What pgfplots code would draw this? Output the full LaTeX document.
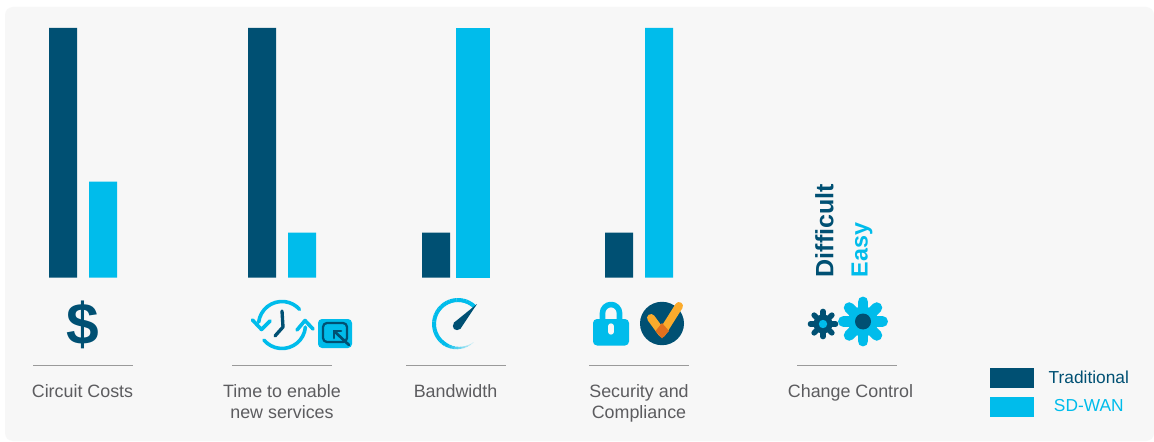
\documentclass[border=0pt]{standalone}
\usepackage{fontspec}
\setmainfont{Liberation Sans}
\usepackage{pgfplots}
\pgfplotsset{compat=1.18}
\definecolor{trad}{HTML}{005073}
\definecolor{sdwan}{HTML}{00BCEB}
\definecolor{panel}{HTML}{F7F7F7}
\definecolor{caption}{HTML}{5C5C5F}
\definecolor{rulegray}{HTML}{9A9A9A}
\definecolor{checkor}{HTML}{FBAB2C}
\definecolor{checkdk}{HTML}{E2701E}
\begin{document}
\begin{tikzpicture}[x=0.75pt,y=-0.75pt,line cap=round,line join=round]
% page and panel
\fill[white] (0,0) rectangle (1154,442);
\fill[panel,rounded corners=6pt] (5,7) rectangle (1154,441);

\begin{axis}[
  at={(0,-331.5pt)},anchor=south west,
  scale only axis,width=865.5pt,height=331.5pt,
  xmin=0,xmax=1154,ymin=-65.9,ymax=111.2,
  axis lines=none,clip=false,
  ybar,bar shift=0pt,
  legend style={at={(axis cs:990,-36.3)},anchor=north west,draw=none,fill=none,
    font=\fontsize{13pt}{14pt}\selectfont,row sep=6.4pt,
    legend cell align=center,inner sep=0pt,outer sep=0pt},
  legend image code/.code={\fill[#1] (0pt,-7.5pt) rectangle (33pt,7.5pt);},
  every axis legend/.append style={nodes={inner xsep=11pt,inner ysep=0pt}},
]
\addplot[draw=none,fill=trad,bar width=21pt] coordinates {(63,100) (262,100) (436,18) (619,18)};
\addlegendentry{\textcolor{trad}{Traditional}}
\addplot[draw=none,fill=sdwan,bar width=21pt] coordinates {(103,38.4) (302,18) (659,100)};
\addlegendentry{\textcolor{sdwan}{SD-WAN}}
\addplot[draw=none,fill=sdwan,bar width=25.5pt,forget plot] coordinates {(473,100)};
\end{axis}

\begin{scope}[font=\fontsize{13.4pt}{16pt}\selectfont,text=caption,every node/.style={anchor=base}]
% rules under the icons
\foreach \a/\b in {33/133,232/332,406/506,589/689,797/897}
  \draw[rulegray,line width=0.8pt,line cap=butt] (\a,365.5) -- (\b,365.5);
% category captions
\node at (82.5,397.5) {Circuit Costs};
\node at (282,397.5) {Time to enable};
\node at (282,418.5) {new services};
\node at (455.5,397.5) {Bandwidth};
\node at (639,397.5) {Security and};
\node at (639,418.5) {Compliance};
\node at (850.5,397.5) {Change Control};
\end{scope}

% change control wording
\node[rotate=90,anchor=west,inner sep=0pt,text=trad,font=\bfseries\fontsize{18.8pt}{20pt}\selectfont] at (824.5,277.5) {Difficult};
\node[rotate=90,anchor=west,inner sep=0pt,text=sdwan,font=\bfseries\fontsize{17.5pt}{20pt}\selectfont] at (862,277.5) {Easy};

% dollar icon
\node[text=trad,font=\bfseries\fontsize{44pt}{45pt}\selectfont,inner sep=0pt] at (83,325) {\$};

% clock with circular arrows
\begin{scope}[sdwan,line width=2.7pt]
\draw (282,325) ++(187:23.5) arc[start angle=187,end angle=318,radius=23.5];
\draw (282,325) ++(5:23.5) arc[start angle=5,end angle=140,radius=23.5];
\draw (252.5,320) -- (261.5,329.5) -- (270,321);
\draw (297,330) -- (305,320.5) -- (313,329);
\end{scope}
\draw[trad,line width=2.5pt] (282,311) -- (283,327) -- (275,336);

% window icon
\fill[sdwan,rounded corners=3pt] (318,319) rectangle (352,348);
\draw[trad,line width=1.7pt,rounded corners=3pt] (323,323) rectangle (347,342);
\draw[trad,line width=2pt] (349,345) -- (334,331);
\draw[trad,line width=2pt] (334,338) -- (334,331) -- (341,331);

% speed gauge
\foreach \a [evaluate=\a as \w using {min(3,0.5+(\a-50)*0.035)},
             evaluate=\a as \c using {min(100,15+(\a-50)*1.3)}] in {50,58,...,310}
  \draw[sdwan!\c!panel,line width=\w pt,line cap=butt] (458,324) ++(\a:24) arc[start angle=\a,end angle=\a+8.4,radius=24];
\fill[trad] (477,304) -- (460.3,329) -- (453.5,323) -- cycle;
\fill[trad] (457,326) circle[radius=4.2];

% padlock
\fill[sdwan,rounded corners=3pt] (593,319) rectangle (629,345.5);
\draw[sdwan,line width=4.2pt,line cap=butt] (602.5,321) -- (602.5,313) arc[start angle=180,end angle=360,radius=8.5] -- (619.5,321);
\draw[panel,line width=4pt] (611,326) -- (611,332);

% compliance check mark
\fill[trad] (662,323.5) ellipse[x radius=22,y radius=21.7];
\draw[checkor,line width=6pt] (651,318) -- (662,333);
\draw[checkor,line width=6pt] (662,333) -- (679,306);
\fill[checkdk] (662,323) -- (669,331) -- (662,338.5) -- (655.5,331) -- cycle;

% small gear
\foreach \a in {0,45,...,315}
  \draw[trad,line width=4.2pt] (823,324) -- ++(\a:12.5);
\fill[trad] (823,324) circle[radius=9.5];
\fill[sdwan] (823,324) circle[radius=4.2];

% large gear
\foreach \a in {0,45,...,315}
  \draw[sdwan,line width=8.2pt] (863,321.5) -- ++(\a:19.5);
\fill[sdwan] (863,321.5) circle[radius=15];
\fill[trad] (863,321.5) circle[radius=8];
\end{tikzpicture}
\end{document}
